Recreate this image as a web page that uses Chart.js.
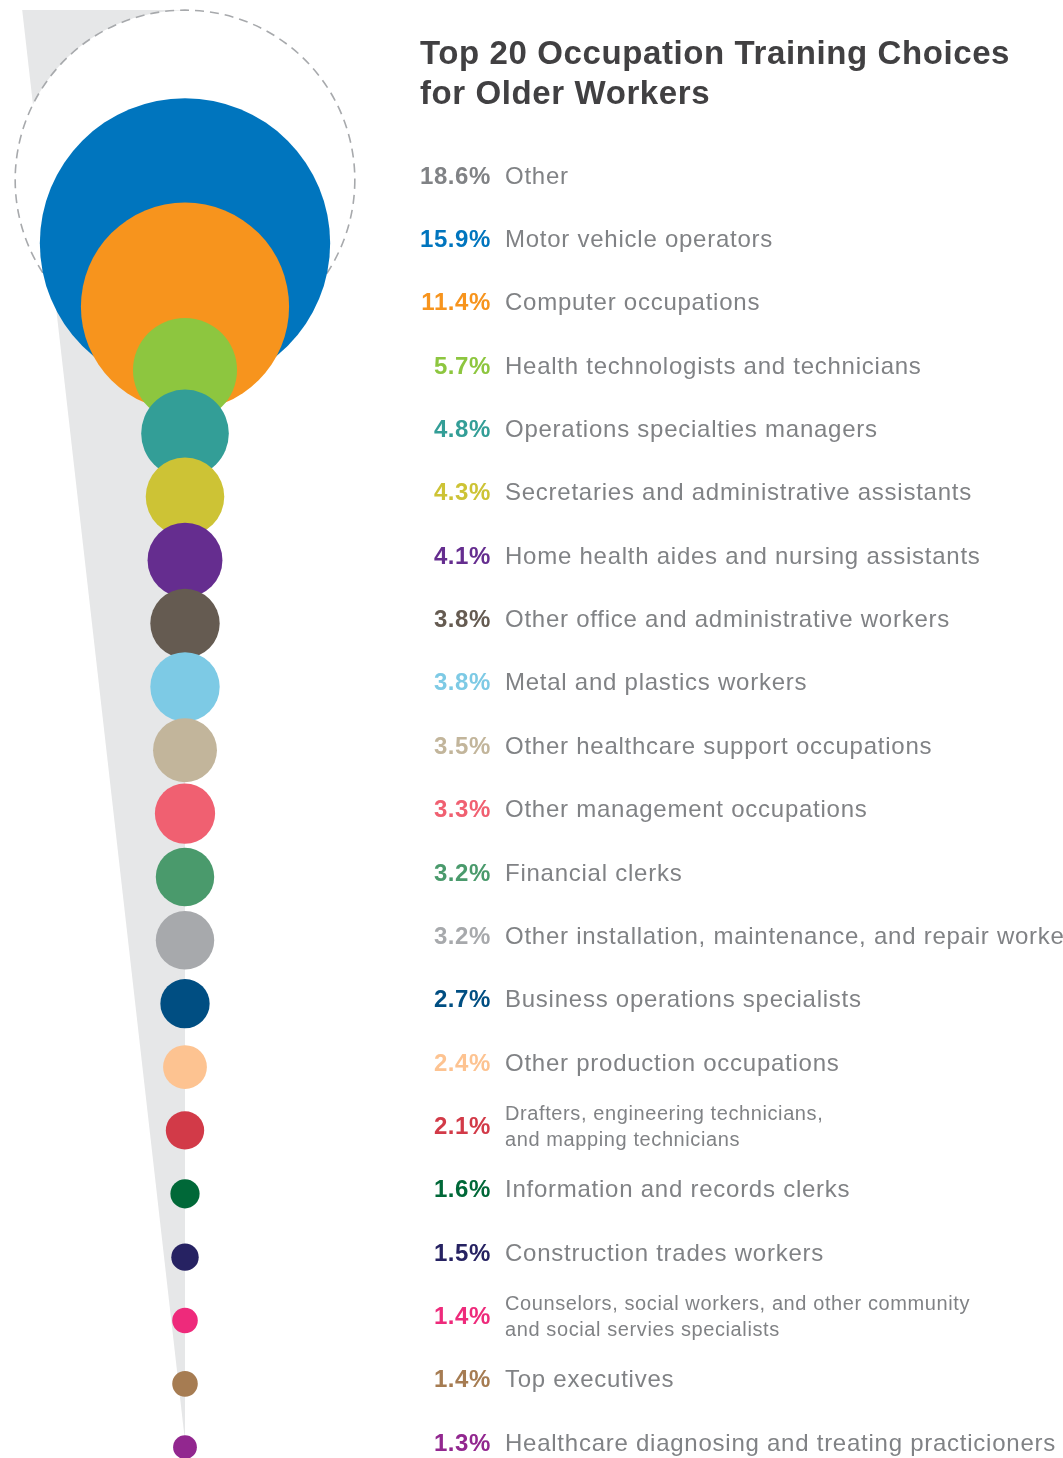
<!DOCTYPE html>
<html>
<head>
<meta charset="utf-8">
<title>Top 20 Occupation Training Choices for Older Workers</title>
<script src="https://cdn.jsdelivr.net/npm/chart.js@4.4.1/dist/chart.umd.min.js"></script>
<style>
  html, body { margin: 0; padding: 0; background: #fff; }
  #wrap { position: relative; width: 1063px; height: 1458px; overflow: hidden; }
</style>
</head>
<body>
<div id="wrap"><canvas id="trainingChart" width="1063" height="1458"></canvas></div>
<script>
// Share of training choices (%) by occupation, first entry is "Other"
const occupations = [
  'Other',
  'Motor vehicle operators',
  'Computer occupations',
  'Health technologists and technicians',
  'Operations specialties managers',
  'Secretaries and administrative assistants',
  'Home health aides and nursing assistants',
  'Other office and administrative workers',
  'Metal and plastics workers',
  'Other healthcare support occupations',
  'Other management occupations',
  'Financial clerks',
  'Other installation, maintenance, and repair workers',
  'Business operations specialists',
  'Other production occupations',
  'Drafters, engineering technicians,\nand mapping technicians',
  'Information and records clerks',
  'Construction trades workers',
  'Counselors, social workers, and other community\nand social servies specialists',
  'Top executives',
  'Healthcare diagnosing and treating practicioners'
];

const shares = [18.6, 15.9, 11.4, 5.7, 4.8, 4.3, 4.1, 3.8, 3.8, 3.5, 3.3, 3.2, 3.2, 2.7, 2.4, 2.1, 1.6, 1.5, 1.4, 1.4, 1.3];

const colors = [
  '#808285', '#0075be', '#f7941d', '#8dc63f', '#339e97', '#cdc335', '#652d8f',
  '#655b51', '#7dcae5', '#c2b59b', '#f06071', '#4a9a6c', '#a7a9ac', '#004e82',
  '#fdc391', '#d23a48', '#006838', '#262262', '#ee2a7b', '#a67c52', '#92278f'
];

// bubble radius in pixels per percentage point (radius grows linearly with share)
const RADIUS_PER_POINT = 9.13;

const LABEL_GRAY = '#808285';
const FONT = '"Liberation Sans", Arial, Helvetica, sans-serif';

// light gray wedge behind the bubbles, narrowing toward the last row
const wedgePlugin = {
  id: 'wedge',
  beforeDatasetsDraw(chart) {
    const { ctx, chartArea, scales } = chart;
    const x = scales.x, y = scales.y;
    const top = chartArea.top + 10;
    ctx.save();
    ctx.fillStyle = '#e6e7e8';
    ctx.beginPath();
    ctx.moveTo(x.getPixelForValue(-0.88), top);
    ctx.lineTo(x.getPixelForValue(0), top);
    ctx.lineTo(x.getPixelForValue(0), y.getPixelForValue(19.9));
    ctx.closePath();
    ctx.fill();
    ctx.restore();
  }
};

// dashed outline for the "Other" bubble
const dashedPlugin = {
  id: 'dashedOther',
  beforeDatasetDraw(chart, args) {
    if (args.index !== 1) return;
    chart.ctx.save();
    chart.ctx.setLineDash([9, 6]);
  },
  afterDatasetDraw(chart, args) {
    if (args.index !== 1) return;
    chart.ctx.restore();
  }
};

// title and the percent / occupation list on the right
const labelsPlugin = {
  id: 'rowLabels',
  afterDraw(chart) {
    const { ctx, scales } = chart;
    ctx.save();
    ctx.letterSpacing = '0.6px';
    ctx.fillStyle = '#414042';
    ctx.font = 'bold 33px ' + FONT;
    ctx.textAlign = 'left';
    ctx.textBaseline = 'alphabetic';
    ctx.fillText('Top 20 Occupation Training Choices', 420, 64);
    ctx.fillText('for Older Workers', 420, 104);

    shares.forEach((v, i) => {
      const yc = scales.y.getPixelForValue(i) - 3;
      ctx.textBaseline = 'middle';
      ctx.letterSpacing = '0.6px';
      ctx.font = 'bold 24px ' + FONT;
      ctx.textAlign = 'right';
      ctx.fillStyle = colors[i];
      ctx.fillText(v.toFixed(1) + '%', 491, yc);

      ctx.textAlign = 'left';
      ctx.fillStyle = LABEL_GRAY;
      const lines = occupations[i].split('\n');
      if (lines.length === 1) {
        ctx.letterSpacing = '0.75px';
        ctx.font = '24px ' + FONT;
        ctx.fillText(lines[0], 505, yc);
      } else {
        ctx.letterSpacing = '0.6px';
        ctx.font = '20px ' + FONT;
        ctx.fillText(lines[0], 505, yc - 13);
        ctx.fillText(lines[1], 505, yc + 13);
      }
    });
    ctx.restore();
  }
};

const mainPoints = shares.slice(1).map((v, i) => ({ x: 0, y: i + 1, r: v * RADIUS_PER_POINT }));

new Chart(document.getElementById('trainingChart'), {
  type: 'bubble',
  data: {
    datasets: [{
      label: 'Occupations',
      data: mainPoints,
      backgroundColor: colors.slice(1),
      borderWidth: 0,
      hoverBorderWidth: 0,
      clip: false,
      order: 1
    }, {
      label: occupations[0],
      data: [{ x: 0, y: 0, r: shares[0] * RADIUS_PER_POINT }],
      backgroundColor: '#ffffff',
      borderColor: '#a7a9ac',
      borderWidth: 1.6,
      clip: false,
      order: 2
    }]
  },
  options: {
    responsive: false,
    animation: false,
    events: [],
    layout: { autoPadding: false, padding: { left: 0, right: 693, top: 0, bottom: 0 } },
    plugins: {
      legend: { display: false },
      tooltip: { enabled: false }
    },
    scales: {
      x: { type: 'linear', min: -1, max: 1, display: false },
      y: { type: 'linear', min: -2.84, max: 20.17, reverse: true, display: false }
    }
  },
  plugins: [wedgePlugin, dashedPlugin, labelsPlugin]
});
</script>
</body>
</html>
